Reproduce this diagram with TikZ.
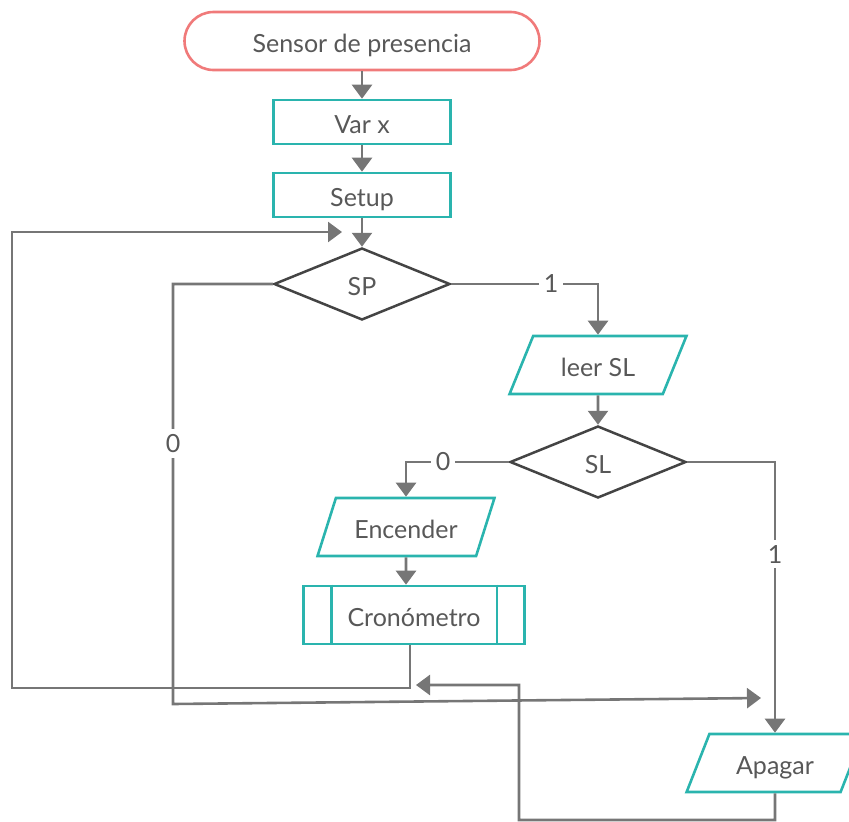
\documentclass[tikz,border=0pt]{standalone}
\usepackage{fontspec}
\setmainfont{Lato}
\usetikzlibrary{shapes.geometric, arrows.meta}
\definecolor{cyanline}{RGB}{42,180,174}
\definecolor{redline}{RGB}{240,122,122}
\definecolor{wireg}{RGB}{118,118,118}
\definecolor{textg}{RGB}{88,88,88}
\definecolor{diag}{RGB}{68,68,68}

\begin{document}
\begin{tikzpicture}[x=1pt, y=-1pt,
  every node/.style={font=\fontsize{25}{30}\selectfont, text=textg},
  shapetxt/.style={text height=25pt, text depth=2pt},
  term/.style={shapetxt, draw=redline, line width=2.6pt, rounded corners=29pt, minimum width=355pt, minimum height=58pt},
  procbox/.style={shapetxt, draw=cyanline, line width=2.6pt, minimum width=177pt, minimum height=44pt, inner sep=4pt},
  io/.style={shapetxt, trapezium, draw=cyanline, line width=2.6pt, trapezium left angle=63.4, trapezium right angle=116.6, trapezium stretches=true, minimum width=177pt, minimum height=58pt, inner sep=0pt},
  decide/.style={shapetxt, diamond, draw=diag, line width=2.5pt, minimum width=176pt, minimum height=72pt, inner sep=0pt},
  subproc/.style={shapetxt, draw=cyanline, line width=2.6pt, minimum width=221pt, minimum height=58pt},
  wire/.style={draw=wireg, line width=2.6pt},
  arr/.style={wire, -{Triangle[length=14pt,width=20pt]}},
  lbl/.style={fill=white, inner sep=5pt}]
\useasboundingbox (0,0) rectangle (849,822);
\node[term] (start) at (362,41) {Sensor de presencia};
\node[procbox] (varx) at (362,122) {Var x};
\node[procbox] (setup) at (362,195) {Setup};
\node[decide] (sp) at (362,284) {SP};
\node[io] (leer) at (598,365) {leer SL};
\node[decide] (sl) at (598,462) {SL};
\node[io] (enc) at (406,527) {Encender};
\node[subproc] (cron) at (414,615) {Cronómetro};
\draw[cyanline, line width=2.6pt] ([xshift=29pt]cron.north west) -- ([xshift=29pt]cron.south west)
  ([xshift=-29pt]cron.north east) -- ([xshift=-29pt]cron.south east);
\node[io] (apagar) at (775,763) {Apagar};

\coordinate (spturn) at (173,704);
\coordinate (spend) at (761,698);
\coordinate (loopbl) at (12,688);
\coordinate (looptl) at (12,232);
\coordinate (loopend) at (342,232);
\coordinate (offbr) at (775,820);
\coordinate (offtl) at (519,685);
\coordinate (offend) at (416,685);

\draw[arr] (start) -- (varx);
\draw[arr] (varx) -- (setup);
\draw[arr] (setup) -- (sp);
\draw[arr] (sp.east) -| (leer.north) node[lbl, pos=0.34] {1};
\draw[arr] (sp.west) -| (spturn) node[lbl, pos=0.69] {0} -- (spend);
\draw[arr] (leer) -- (sl);
\draw[arr] (sl.west) -| (enc.north) node[lbl, pos=0.32] {0};
\draw[arr] (sl.east) -| (apagar.north) node[lbl, pos=0.67] {1};
\draw[arr] (enc) -- (enc |- cron.north);
\draw[arr] ([xshift=-4pt]cron.south) |- (loopbl) -- (looptl) -- (loopend);
\draw[arr] (apagar.south) -- (offbr) -| (offtl) -- (offend);
\end{tikzpicture}
\end{document}
